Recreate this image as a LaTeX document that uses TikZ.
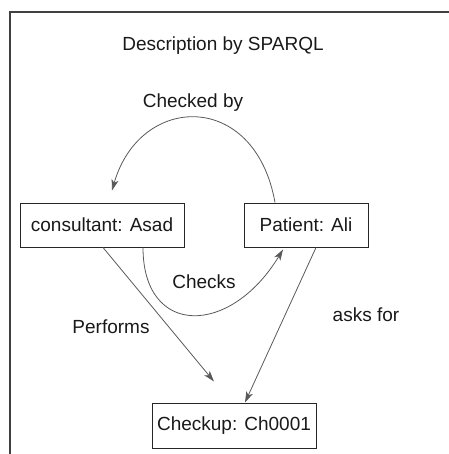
\documentclass[tikz,border=0pt]{standalone}
\usepackage{fontspec}
\setmainfont{Liberation Sans}
\usetikzlibrary{arrows.meta}
\begin{document}
\begin{tikzpicture}[x=1pt,y=1pt,
  every node/.style={font=\fontsize{19}{22}\selectfont, text=black!90},
  entity/.style={draw=black!85, line width=1pt, inner sep=0pt, minimum height=44pt},
  lbl/.style={inner sep=0pt},
  link/.style={draw=black!65, line width=0.8pt, -{Stealth[length=11pt,width=7pt,inset=3pt]}},
  frameline/.style={draw=black!75, line width=1.6pt}]
  \useasboundingbox (0,0) rectangle (448,-454);
  % enclosing frame (open to the right and bottom)
  \draw[frameline] (10,-460) -- (10,-12) -- (460,-12);

  \node[lbl] (title) at (223,-46) {Description by SPARQL};

  % entities
  \node[entity, minimum width=164pt] (cons) at (102,-225) {consultant: Asad};
  \node[entity, minimum width=124pt] (pat)  at (306,-225) {Patient: Ali};
  \node[entity, minimum width=164pt, minimum height=45pt] (chk) at (234,-425.5) {Checkup: Ch0001};

  % relation labels
  \node[lbl] (lcheckedby) at (193,-103) {Checked by};
  \node[lbl] (lchecks)    at (204,-282) {Checks};
  \node[lbl] (lperforms)  at (111,-327) {Performs};
  \node[lbl] (lasksfor)   at (366,-315) {asks for};

  % relations
  \draw[link] ([xshift=-31pt]pat.north) .. controls (255,-90) and (140,-93) .. ([xshift=10pt,yshift=12pt]cons.north);
  \draw[link] ([xshift=41pt]cons.south) .. controls (143,-337) and (230,-337) .. ([xshift=-23pt,yshift=-2pt]pat.south);
  \draw[link] ([xshift=1pt]cons.south) -- ([xshift=-20pt,yshift=21pt]chk.north);
  \draw[link] ([xshift=10pt]pat.south) -- ([xshift=11pt]chk.north);
\end{tikzpicture}
\end{document}
